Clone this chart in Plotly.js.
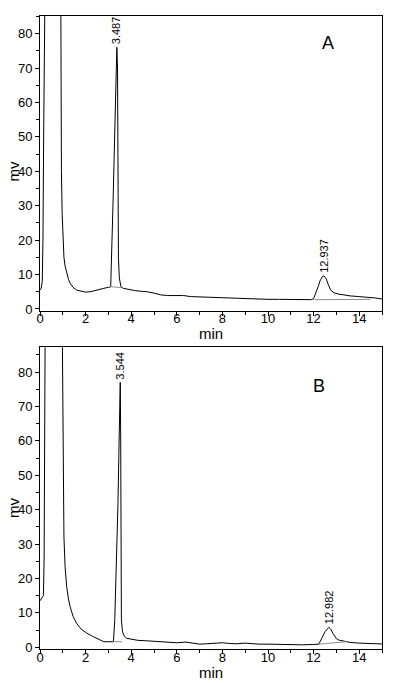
<!DOCTYPE html>
<html>
<head>
<meta charset="utf-8">
<script src="https://cdn.plot.ly/plotly-3.0.1.min.js"></script>
<style>html,body{margin:0;padding:0;background:#fff;}#chart{width:397px;height:683px;}</style>
</head>
<body>
<div id="chart"></div>
<script>
// ---- Chromatogram A ----
const timeA = [0,0.05,0.1,0.13,0.16,0.19,0.22,0.5,0.88,0.9,0.92,0.94,0.97,1.0,1.05,1.1,1.17,1.25,1.32,1.45,1.6,1.8,2.0,2.2,2.5,2.8,3.0,3.1,
  3.2,3.3,3.37,3.4,3.42,3.44,3.48,3.55,3.65,3.8,4.0,4.2,4.5,4.7,5.0,5.3,5.6,6.0,6.3,6.6,7.0,7.5,8.0,8.5,9.0,9.5,10.0,10.5,11.0,11.5,11.9,
  12.0,12.1,12.2,12.3,12.4,12.45,12.55,12.65,12.75,12.9,13.1,13.33,13.6,14.0,14.35,14.7,15.0];
const signalA = [5.5,6,8,20,50,90,150,300,150,90,60,40,28,20,15,12.5,10.4,8.6,7.5,6.3,5.5,5.1,4.9,5.0,5.4,6.0,6.3,6.4,
  30,58,76,70,40,15,9,6.5,6.0,5.8,5.5,5.3,5.1,5.0,4.6,4.1,3.9,3.8,3.9,3.6,3.5,3.4,3.2,3.0,3.0,2.9,2.8,2.8,2.7,2.7,2.7,
  3.0,4.5,6.5,8.5,9.5,9.6,8.8,7.0,5.5,4.7,4.3,4.1,3.8,3.6,3.5,3.2,2.9];
const baseTimeA1 = [3.07,3.58], baseSignalA1 = [6.5,6.2];
const baseTimeA2 = [12.0,14.5], baseSignalA2 = [2.7,2.8];
const peakTimeA = [3.37,12.45], peakSignalA = [76,9.6], peakLabelA = ['3.487','12.937'];

// ---- Chromatogram B ----
const timeB = [0,0.05,0.1,0.15,0.18,0.2,0.22,0.3,0.6,0.95,0.98,1.0,1.02,1.05,1.1,1.17,1.25,1.32,1.45,1.6,1.8,2.05,2.3,2.5,2.65,2.8,3.0,3.1,3.22,
  3.28,3.33,3.37,3.42,3.47,3.52,3.54,3.555,3.57,3.62,3.7,3.8,4.0,4.3,4.6,5.0,5.5,6.0,6.4,6.8,7.0,7.3,7.6,8.0,8.3,8.6,9.0,9.3,9.6,10.0,10.5,11.0,11.5,12.0,12.23,
  12.35,12.5,12.67,12.75,12.85,13.0,13.1,13.4,13.6,14.0,14.5,15.0];
const signalB = [13.5,14,14.5,15,25,50,90,200,300,150,90,62,45,32,23.4,17.6,14,11.8,9,7,5.3,4.1,3.2,2.6,2.0,1.6,1.6,1.7,1.6,
  8,18,26,42,60,77,60,30,8,4.5,3.2,2.6,2.3,2.0,1.9,1.7,1.4,1.3,1.5,1.2,0.9,1.0,1.2,1.3,1.1,1.0,1.2,1.0,0.9,0.9,0.8,0.7,0.7,0.8,0.9,
  2.5,4.5,5.8,5.3,4.0,2.5,2.1,1.7,1.4,1.2,1.05,0.95];
const baseTimeB1 = [3.22,3.6], baseSignalB1 = [1.6,1.6];
const baseTimeB2 = [12.23,13.45], baseSignalB2 = [0.9,1.6];
const peakTimeB = [3.52,12.67], peakSignalB = [77,5.8], peakLabelB = ['3.544','12.982'];

const panelLabels = ['A','B'];
const xTitle = 'min', yTitle = 'mv';

const FONT = 'Arial, "Liberation Sans", sans-serif';
const lineMain = {color:'#000', width:1};
const lineBase = {color:'#8c8c8c', width:1};

const traces = [
  {x:timeA, y:signalA, xaxis:'x', yaxis:'y', mode:'lines', line:lineMain},
  {x:baseTimeA1, y:baseSignalA1, xaxis:'x', yaxis:'y', mode:'lines', line:lineBase},
  {x:baseTimeA2, y:baseSignalA2, xaxis:'x', yaxis:'y', mode:'lines', line:lineBase},
  {x:timeB, y:signalB, xaxis:'x2', yaxis:'y2', mode:'lines', line:lineMain},
  {x:baseTimeB1, y:baseSignalB1, xaxis:'x2', yaxis:'y2', mode:'lines', line:lineBase},
  {x:baseTimeB2, y:baseSignalB2, xaxis:'x2', yaxis:'y2', mode:'lines', line:lineBase}
];

function xAxis(anchor){
  return {
    domain:[40/397, 382/397], anchor:anchor, range:[0,15], dtick:2, tick0:0,
    ticks:'outside', ticklen:4, tickcolor:'#000', tickwidth:1,
    minor:{dtick:1, tick0:0, ticks:'outside', ticklen:3, tickcolor:'#000'},
    showline:true, linecolor:'#000', linewidth:1, mirror:true,
    showgrid:false, zeroline:false, ticklabelstandoff:-8,
    tickfont:{family:FONT, size:13, color:'#000'}
  };
}
function yAxis(domain, range, anchor){
  return {
    domain:domain, anchor:anchor, range:range, dtick:10, tick0:0,
    ticks:'outside', ticklen:4, tickcolor:'#000', tickwidth:1,
    minor:{dtick:5, tick0:0, ticks:'outside', ticklen:3, tickcolor:'#000'},
    showline:true, linecolor:'#000', linewidth:1, mirror:true,
    showgrid:false, zeroline:false,
    tickfont:{family:FONT, size:13, color:'#000'}
  };
}

const annotations = [];
function addPeaks(times, sigs, labels, xr, yr){
  for (let i=0;i<times.length;i++){
    annotations.push({x:times[i], y:sigs[i], xref:xr, yref:yr, text:labels[i], showarrow:false,
      textangle:-90, xanchor:'center', yanchor:'bottom', yshift:1,
      font:{family:FONT, size:11, color:'#000'}});
  }
}
addPeaks(peakTimeA, peakSignalA, peakLabelA, 'x', 'y');
addPeaks(peakTimeB, peakSignalB, peakLabelB, 'x2', 'y2');
function paperText(txt, px, py, size, angle){
  annotations.push({x:px/397, y:1-py/683, xref:'paper', yref:'paper', text:txt, showarrow:false,
    xanchor:'center', yanchor:'middle', textangle:angle||0, font:{family:FONT, size:size, color:'#000'}});
}
paperText(panelLabels[0], 327.7, 43, 18);
paperText(panelLabels[1], 319, 385.7, 18);
paperText(xTitle, 211, 334, 15);
paperText(xTitle, 211, 672, 15);
paperText(yTitle, 13, 171.5, 15, -90);
paperText(yTitle, 13, 508, 15, -90);

const layout = {
  width:397, height:683, margin:{l:0,r:0,t:0,b:0},
  paper_bgcolor:'#fff', plot_bgcolor:'#fff', showlegend:false,
  font:{family:FONT, color:'#000'},
  xaxis: xAxis('y'),
  yaxis: yAxis([(683-310.7)/683, (683-15.7)/683], [-0.5, 85.2], 'x'),
  xaxis2: xAxis('y2'),
  yaxis2: yAxis([(683-649.3)/683, (683-347.3)/683], [-0.6, 87.2], 'x2'),
  annotations: annotations
};

Plotly.newPlot('chart', traces, layout, {staticPlot:true, displayModeBar:false});
</script>
</body>
</html>
